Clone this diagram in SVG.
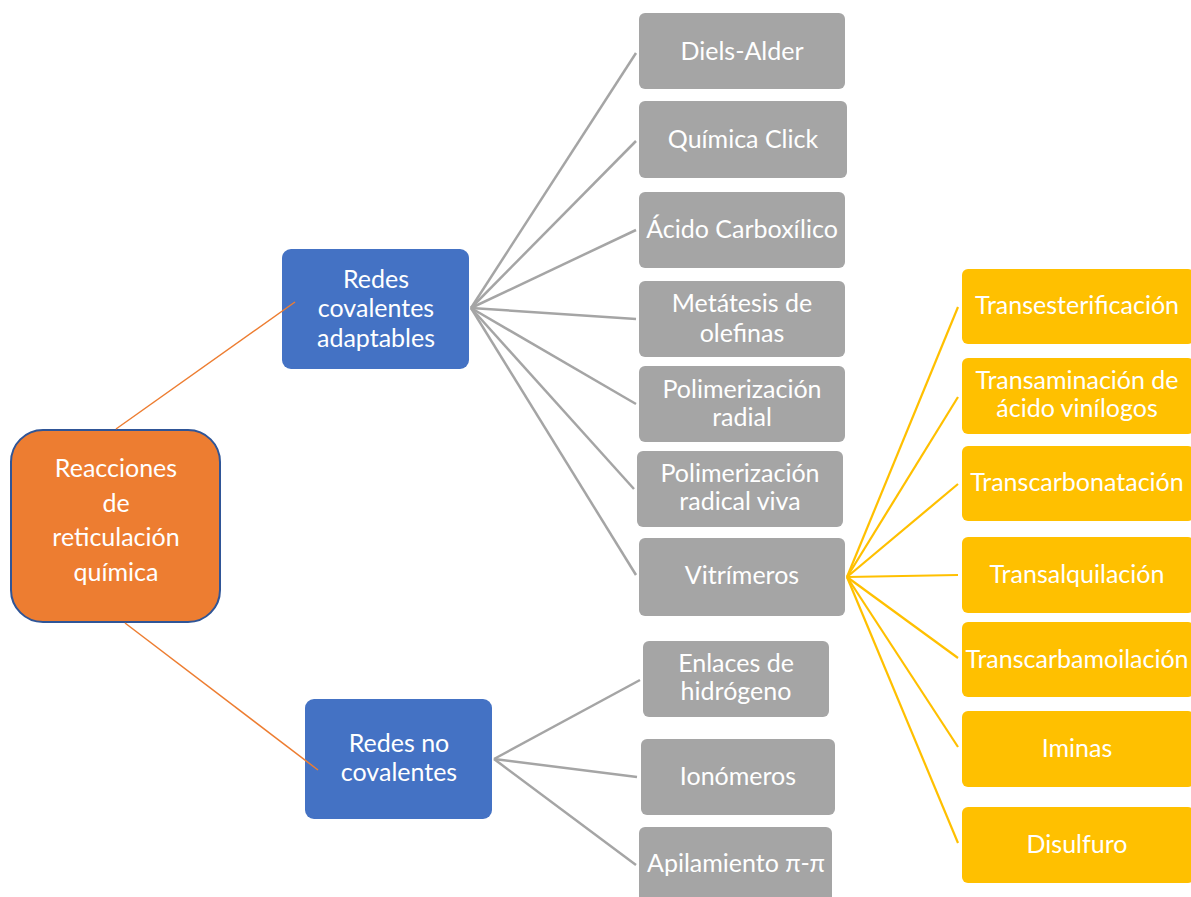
<svg xmlns="http://www.w3.org/2000/svg" width="1191" height="897" viewBox="0 0 1191 897">
<style>
.t{font-family:Lato,"Liberation Sans",sans-serif;font-size:25px;fill:#fff;text-anchor:middle}
.g{fill:#A5A5A5}
.y{fill:#FFC000}
.b{fill:#4472C4}
.cg{stroke:#A5A5A5;stroke-width:2.5;fill:none}
.cy{stroke:#FFC000;stroke-width:2.2;fill:none}
.co{stroke:#ED7D31;stroke-width:1.5;fill:none}
</style>
<rect width="1191" height="897" fill="#fff"/>
<g id="root">
<rect x="11" y="430" width="209" height="192" rx="32" fill="#ED7D31" stroke="#2F5597" stroke-width="2"/>
<text class="t" x="116" y="477">Reacciones</text>
<text class="t" x="116" y="512">de</text>
<text class="t" x="116" y="546">reticulación</text>
<text class="t" x="116" y="581">química</text>
</g>
<g id="redes-covalentes">
<rect class="b" x="282" y="249" width="187" height="120" rx="9"/>
<text class="t" x="376" y="288">Redes</text>
<text class="t" x="376" y="317">covalentes</text>
<text class="t" x="376" y="347">adaptables</text>
</g>
<g id="redes-no-covalentes">
<rect class="b" x="305" y="699" width="187" height="120" rx="9"/>
<text class="t" x="399" y="752">Redes no</text>
<text class="t" x="399" y="781">covalentes</text>
</g>
<g id="diels-alder">
<rect class="g" x="639" y="13" width="206" height="76" rx="6"/>
<text class="t" x="742" y="60">Diels-Alder</text>
</g>
<g id="quimica-click">
<rect class="g" x="639" y="101" width="208" height="77" rx="6"/>
<text class="t" x="743" y="148">Química Click</text>
</g>
<g id="acido-carboxilico">
<rect class="g" x="639" y="192" width="206" height="76" rx="6"/>
<text class="t" x="742" y="238">Ácido Carboxílico</text>
</g>
<g id="metatesis">
<rect class="g" x="639" y="281" width="206" height="76" rx="6"/>
<text class="t" x="742" y="312">Metátesis de</text>
<text class="t" x="742" y="342">olefinas</text>
</g>
<g id="polimerizacion-radial">
<rect class="g" x="639" y="366" width="206" height="76" rx="6"/>
<text class="t" x="742" y="398">Polimerización</text>
<text class="t" x="742" y="426">radial</text>
</g>
<g id="polimerizacion-viva">
<rect class="g" x="637" y="451" width="206" height="76" rx="6"/>
<text class="t" x="740" y="482">Polimerización</text>
<text class="t" x="740" y="510">radical viva</text>
</g>
<g id="vitrimeros">
<rect class="g" x="639" y="538" width="206" height="78" rx="6"/>
<text class="t" x="742" y="584">Vitrímeros</text>
</g>
<g id="enlaces-hidrogeno">
<rect class="g" x="643" y="641" width="186" height="76" rx="6"/>
<text class="t" x="736" y="672">Enlaces de</text>
<text class="t" x="736" y="700">hidrógeno</text>
</g>
<g id="ionomeros">
<rect class="g" x="641" y="739" width="194" height="76" rx="6"/>
<text class="t" x="738" y="785">Ionómeros</text>
</g>
<g id="apilamiento">
<rect class="g" x="639" y="827" width="193" height="80" rx="6"/>
<text class="t" x="736" y="872">Apilamiento π-π</text>
</g>
<g id="transesterificacion">
<rect class="y" x="962" y="269" width="232" height="75" rx="6"/>
<text class="t" x="1077" y="314">Transesterificación</text>
</g>
<g id="transaminacion">
<rect class="y" x="962" y="358" width="232" height="76" rx="6"/>
<text class="t" x="1077" y="389">Transaminación de</text>
<text class="t" x="1077" y="417">ácido vinílogos</text>
</g>
<g id="transcarbonatacion">
<rect class="y" x="962" y="446" width="232" height="75" rx="6"/>
<text class="t" x="1077" y="491">Transcarbonatación</text>
</g>
<g id="transalquilacion">
<rect class="y" x="962" y="537" width="232" height="76" rx="6"/>
<text class="t" x="1077" y="583">Transalquilación</text>
</g>
<g id="transcarbamoilacion">
<rect class="y" x="962" y="622" width="232" height="75" rx="6"/>
<text class="t" x="1077" y="668">Transcarbamoilación</text>
</g>
<g id="iminas">
<rect class="y" x="962" y="711" width="232" height="76" rx="6"/>
<text class="t" x="1077" y="757">Iminas</text>
</g>
<g id="disulfuro">
<rect class="y" x="962" y="807" width="232" height="76" rx="6"/>
<text class="t" x="1077" y="853">Disulfuro</text>
</g>
<g id="connectors">
<line class="co" x1="116" y1="429" x2="295" y2="302"/>
<line class="co" x1="125" y1="623" x2="318" y2="770"/>
<line class="cg" x1="471" y1="308" x2="636" y2="53"/>
<line class="cg" x1="471" y1="308" x2="636" y2="141"/>
<line class="cg" x1="471" y1="308" x2="636" y2="230"/>
<line class="cg" x1="471" y1="308" x2="636" y2="319"/>
<line class="cg" x1="471" y1="308" x2="636" y2="404"/>
<line class="cg" x1="471" y1="308" x2="634" y2="489"/>
<line class="cg" x1="471" y1="308" x2="636" y2="575"/>
<line class="cg" x1="494" y1="759" x2="640" y2="680"/>
<line class="cg" x1="494" y1="759" x2="637" y2="777"/>
<line class="cg" x1="494" y1="759" x2="636" y2="865"/>
<line class="cy" x1="847" y1="577" x2="958" y2="307"/>
<line class="cy" x1="847" y1="577" x2="958" y2="397"/>
<line class="cy" x1="847" y1="577" x2="958" y2="484"/>
<line class="cy" x1="847" y1="577" x2="958" y2="575"/>
<line class="cy" x1="847" y1="577" x2="958" y2="658"/>
<line class="cy" x1="847" y1="577" x2="958" y2="747"/>
<line class="cy" x1="847" y1="577" x2="958" y2="843"/>
</g>
</svg>
